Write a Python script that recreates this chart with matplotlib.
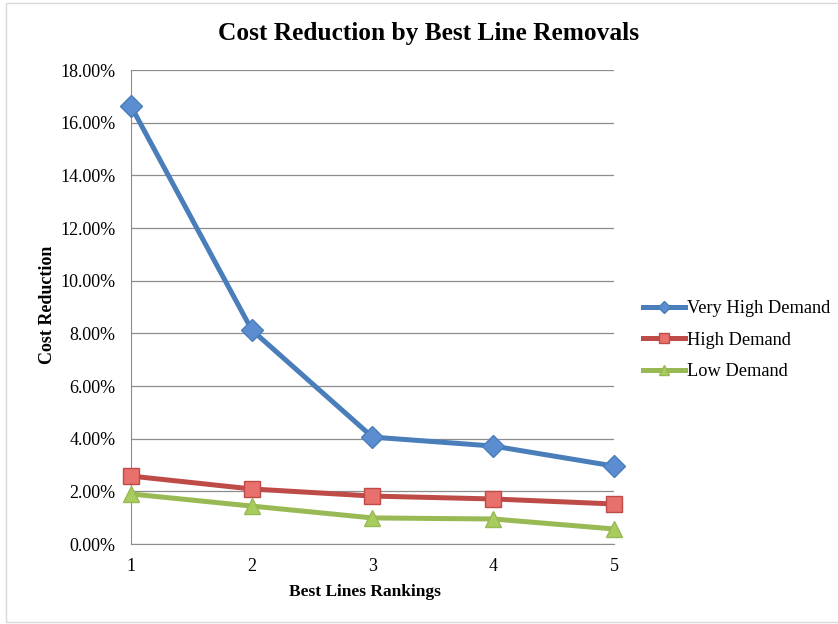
import matplotlib.pyplot as plt
from matplotlib.patches import Rectangle
from matplotlib.ticker import FuncFormatter

plt.rcParams['font.family'] = ['Liberation Serif', 'DejaVu Serif']

rankings = [1, 2, 3, 4, 5]
very_high = [16.63, 8.13, 4.06, 3.72, 2.96]
high = [2.58, 2.09, 1.82, 1.71, 1.52]
low = [1.90, 1.44, 0.99, 0.95, 0.57]

fig = plt.figure(figsize=(8.38, 6.24), dpi=100)
ax = fig.add_axes([0.1563, 0.1282, 0.5764, 0.7596])

# light frame around the chart area
fig.patches.append(Rectangle((0.007, 0.003), 1.0, 0.992, transform=fig.transFigure,
                             fill=False, edgecolor='#d9d9d9', linewidth=1.0))

series = [
    (very_high, 'Very High Demand', '#4A7EBB', '#5B8DD0', 'D', 11),
    (high, 'High Demand', '#BE4B48', '#E8706D', 's', 12),
    (low, 'Low Demand', '#98B954', '#A9CC5E', '^', 12),
]
for vals, name, col, fill, mk, ms in series:
    ax.plot(rankings, vals, color=col, linewidth=3.6, marker=mk, markersize=ms,
            markerfacecolor=fill, markeredgecolor=col, markeredgewidth=1.0,
            label=name, clip_on=False, zorder=3)

ax.set_xlim(1, 5)
ax.set_ylim(0, 18)
ax.set_xticks(rankings)
ax.set_yticks(range(0, 19, 2))
ax.yaxis.set_major_formatter(FuncFormatter(lambda v, p: '%.2f%%' % v))
ax.grid(axis='y', color='#8c8c8c', linewidth=0.9)
ax.set_axisbelow(True)
for s in ['top', 'right']:
    ax.spines[s].set_visible(False)
ax.spines['left'].set_color('#8c8c8c')
ax.spines['bottom'].set_color('#8c8c8c')
ax.tick_params(axis='y', length=0, labelsize=13, pad=11)
ax.tick_params(axis='x', length=0, labelsize=13, pad=10)

fig.suptitle('Cost Reduction by Best Line Removals', x=0.511, y=0.947,
             fontsize=18.3, fontweight='bold', va='center')
ax.set_xlabel('Best Lines Rankings', fontsize=12.5, fontweight='bold')
ax.xaxis.set_label_coords(0.485, -0.084)
ax.set_ylabel('Cost Reduction', fontsize=13, fontweight='bold')
ax.yaxis.set_label_coords(-0.155, 0.505)

ax.legend(loc='center left', bbox_to_anchor=(1.025, 0.43), frameon=False, fontsize=13.2,
          handlelength=2.3, handletextpad=0.1, labelspacing=0.8, borderaxespad=0.5,
          markerscale=0.6)

fig.savefig('out.png', dpi=100)
